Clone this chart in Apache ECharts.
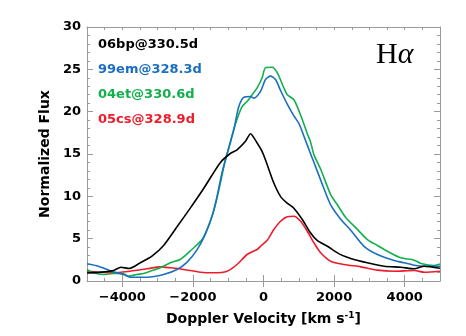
<!DOCTYPE html>
<html>
<head>
<meta charset="utf-8">
<script src="https://cdn.jsdelivr.net/npm/echarts@6/dist/echarts.min.js"></script>
<style>html,body{margin:0;padding:0;background:#fff}#c{width:466px;height:336px}</style>
</head>
<body>
<div id="c"></div>
<script>
// ---- data (velocity km/s, normalized flux) ----
const names = ['06bp@330.5d', '99em@328.3d', '04et@330.6d', '05cs@328.9d'];
const colors = ['#000000', '#1a6fc0', '#12b04c', '#ee1c2a'];

const bp06_x = [-5000,-4600,-4250,-4040,-3800,-3490,-3160,-2830,-2450,-2070,-1700,-1220,-940,-750,-510,-370,-180,-40,100,290,480,670,860,1100,1330,1520,1810,2140,2470,2940,3420,3890,4270,4550,5000];
const bp06_y = [0.95,1.05,1.24,1.63,1.48,2.15,2.93,4.19,6.4,8.64,10.9,14.0,15.06,15.5,16.5,17.4,16.3,15.3,13.8,11.6,10.0,9.2,8.6,7.26,5.7,4.8,4.1,3.2,2.66,2.15,1.75,1.63,1.44,1.75,1.5];

const em99_x = [-5000,-4680,-4300,-3970,-3780,-3300,-2830,-2450,-2170,-1880,-1650,-1460,-1315,-1175,-1030,-840,-700,-560,-370,-275,-85,57,199,341,483,673,862,1004,1146,1335,1430,1714,1903,2187,2471,2849,3228,3701,3985,4270,4550,5000];
const em99_y = [2.03,1.75,1.16,0.77,0.45,0.45,0.77,1.36,2.2,3.7,5.5,7.65,10.0,12.8,15.0,17.9,20.6,21.7,21.8,21.6,22.4,23.8,24.2,23.8,22.5,20.9,19.5,18.6,17.1,15.0,14.0,10.9,9.0,7.3,6.0,4.1,3.13,2.42,2.15,1.87,1.75,1.75];

const et04_x = [-5000,-4820,-4535,-4250,-3970,-3825,-3590,-3400,-3210,-2925,-2640,-2360,-2030,-1740,-1600,-1410,-1220,-1080,-985,-890,-750,-606,-464,-322,-180,-38,57,246,388,578,673,862,1051,1241,1335,1430,1620,1903,2093,2329,2613,2944,3228,3560,3891,4270,4460,4840,5000];
const et04_y = [1.36,0.97,0.77,0.89,0.89,0.57,0.77,0.89,1.16,1.56,2.15,2.54,3.72,4.9,6.08,8.25,11.6,14.35,15.7,17.2,19.1,20.6,21.2,22.0,22.8,24.0,25.2,25.25,24.6,22.8,22.0,21.4,19.6,17.4,16.4,14.9,13.2,10.2,9.0,7.5,6.3,4.9,4.19,3.4,2.74,2.46,2.07,1.83,2.0];

const cs05_x = [-5000,-4630,-4250,-3780,-3300,-2925,-2640,-2260,-1790,-1410,-1030,-750,-464,-180,-85,104,293,483,673,862,1051,1241,1430,1619,1903,2282,2755,3228,3701,4270,4554,5000];
const cs05_y = [1.16,1.04,0.97,1.16,1.44,1.67,1.56,1.36,1.04,0.97,1.16,1.95,3.13,3.72,4.1,4.8,6.08,7.06,7.58,7.65,7.06,5.88,4.5,3.33,2.34,1.95,1.67,1.28,1.16,1.24,1.04,1.16];

const xMajorTicks = [-4000, -2000, 0, 2000, 4000];
const xTitle = 'Doppler Velocity [km s{sup|-1}]';
const yTitle = 'Normalized Flux';
const lineTitle = 'H{al|α}';

const seriesX = [bp06_x, em99_x, et04_x, cs05_x];
const seriesY = [bp06_y, em99_y, et04_y, cs05_y];

const FRAME = '#9a9a9a';
const labelFont = {fontFamily: 'DejaVu Sans', fontWeight: 'bold', fontSize: 13, color: '#000'};

function xAx(pos, opts) {
  return Object.assign({
    type: 'value', position: pos, min: -5000, max: 5000, interval: 500,
    axisLine: {show: true, onZero: false, lineStyle: {color: FRAME, width: 1}},
    axisTick: {show: true, inside: true, length: 3, lineStyle: {color: FRAME}},
    axisLabel: {show: false},
    splitLine: {show: false}
  }, opts);
}
function yAx(pos, opts) {
  return Object.assign({
    type: 'value', position: pos, min: 0, max: 30, interval: 5,
    axisLine: {show: true, onZero: false, lineStyle: {color: FRAME, width: 1}},
    axisTick: {show: true, inside: true, length: 6, lineStyle: {color: FRAME}},
    minorTick: {show: true, splitNumber: 5, length: 3, lineStyle: {color: FRAME}},
    axisLabel: {show: false},
    splitLine: {show: false}
  }, opts);
}

const chart = echarts.init(document.getElementById('c'), null, {renderer: 'canvas'});
chart.setOption({
  animation: false,
  backgroundColor: '#fff',
  grid: {left: 87, right: 26, top: 27, bottom: 55, containLabel: false},
  xAxis: [
    xAx('bottom', {
      axisLabel: Object.assign({show: true, margin: 10, customValues: xMajorTicks,
        formatter: v => (v < 0 ? '\u2212' + Math.abs(v) : String(v))}, labelFont),
      name: xTitle, nameLocation: 'middle', nameGap: 30,
      nameTextStyle: {fontFamily: 'DejaVu Sans', fontWeight: 'bold', fontSize: 14, color: '#000',
        rich: {sup: {fontFamily: 'DejaVu Sans', fontWeight: 'bold', fontSize: 9, color: '#000', verticalAlign: 'top', padding: [0, 0, 7, 0]}}}
    }),
    xAx('bottom', {axisLine: {show: false}, axisTick: {show: true, inside: true, length: 6, customValues: xMajorTicks, lineStyle: {color: FRAME}}}),
    xAx('top', {}),
    xAx('top', {axisLine: {show: false}, axisTick: {show: true, inside: true, length: 6, customValues: xMajorTicks, lineStyle: {color: FRAME}}})
  ],
  yAxis: [
    yAx('left', {
      axisLabel: Object.assign({show: true, margin: 6}, labelFont),
      name: yTitle, nameLocation: 'middle', nameGap: 32, nameRotate: 90,
      nameTextStyle: {fontFamily: 'DejaVu Sans', fontWeight: 'bold', fontSize: 14, color: '#000'}
    }),
    yAx('right', {})
  ],
  series: names.map((n, i) => ({
    name: n, type: 'line', xAxisIndex: 0, yAxisIndex: 0,
    data: seriesX[i].map((x, k) => [x, seriesY[i][k]]),
    showSymbol: false, smooth: 0.25,
    lineStyle: {color: colors[i], width: 1.6},
    z: 10 - i
  })),
  graphic: names.map((n, i) => ({
    type: 'text', left: 98, top: 38 + i * 25,
    style: {text: n, fill: colors[i], font: 'bold 13px "DejaVu Sans"'}
  })).concat([{
    type: 'text', left: 376, top: 40,
    style: {text: lineTitle, fill: '#000', font: '30px "Liberation Serif"',
      rich: {al: {fontFamily: 'Liberation Serif', fontStyle: 'italic', fontSize: 30, fill: '#000'}}}
  }])
});
</script>
</body>
</html>
